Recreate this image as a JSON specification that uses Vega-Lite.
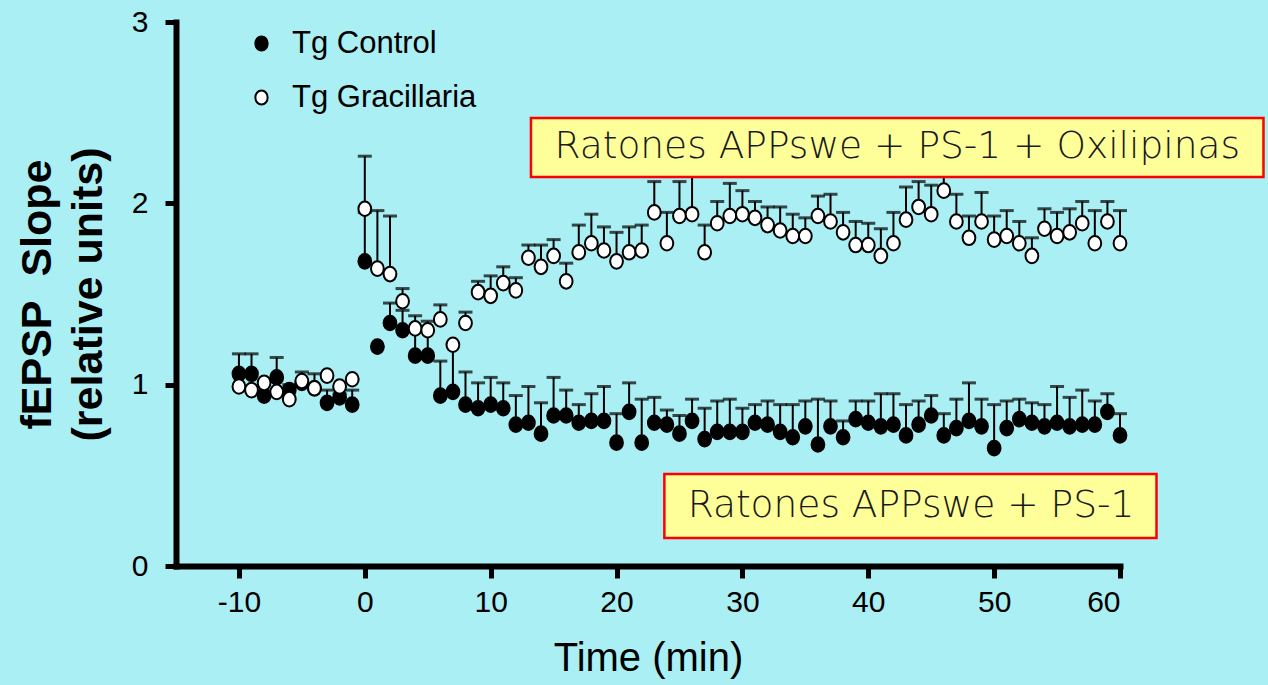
{
  "$schema": "https://vega.github.io/schema/vega-lite/v6.json",
  "width": 944,
  "height": 544,
  "autosize": {"type": "none"},
  "padding": {"left": 176, "top": 22, "right": 148, "bottom": 119},
  "background": "#aaeff4",
  "config": {
    "view": {"stroke": null},
    "axis": {
      "grid": false,
      "domainColor": "black",
      "domainWidth": 6,
      "domainCap": "square",
      "tickColor": "black",
      "tickWidth": 5,
      "tickSize": 12,
      "labelFont": "Liberation Sans",
      "labelFontSize": 30,
      "labelColor": "black",
      "titleColor": "black",
      "labelExpr": "'' + datum.value"
    }
  },
  "datasets": {
    "fepsp": [
      {"t": -10, "group": "Tg Control", "mean": 1.06, "upper": 1.17},
      {"t": -9, "group": "Tg Control", "mean": 1.06, "upper": 1.17},
      {"t": -8, "group": "Tg Control", "mean": 0.94, "upper": 0.94},
      {"t": -7, "group": "Tg Control", "mean": 1.04, "upper": 1.15},
      {"t": -6, "group": "Tg Control", "mean": 0.97, "upper": 1.0},
      {"t": -5, "group": "Tg Control", "mean": 1.01, "upper": 1.01},
      {"t": -4, "group": "Tg Control", "mean": 0.98, "upper": 0.98},
      {"t": -3, "group": "Tg Control", "mean": 0.9, "upper": 0.97},
      {"t": -2, "group": "Tg Control", "mean": 0.93, "upper": 0.95},
      {"t": -1, "group": "Tg Control", "mean": 0.89, "upper": 0.97},
      {"t": 0, "group": "Tg Control", "mean": 1.68, "upper": 1.95},
      {"t": 1, "group": "Tg Control", "mean": 1.21, "upper": 1.21},
      {"t": 2, "group": "Tg Control", "mean": 1.34, "upper": 1.45},
      {"t": 3, "group": "Tg Control", "mean": 1.3, "upper": 1.41},
      {"t": 4, "group": "Tg Control", "mean": 1.16, "upper": 1.3},
      {"t": 5, "group": "Tg Control", "mean": 1.16, "upper": 1.3},
      {"t": 6, "group": "Tg Control", "mean": 0.94, "upper": 1.13},
      {"t": 7, "group": "Tg Control", "mean": 0.96, "upper": 1.22},
      {"t": 8, "group": "Tg Control", "mean": 0.89, "upper": 1.07},
      {"t": 9, "group": "Tg Control", "mean": 0.87, "upper": 1.01},
      {"t": 10, "group": "Tg Control", "mean": 0.89, "upper": 1.04},
      {"t": 11, "group": "Tg Control", "mean": 0.87, "upper": 1.01},
      {"t": 12, "group": "Tg Control", "mean": 0.78, "upper": 0.94},
      {"t": 13, "group": "Tg Control", "mean": 0.79, "upper": 0.99},
      {"t": 14, "group": "Tg Control", "mean": 0.73, "upper": 0.9},
      {"t": 15, "group": "Tg Control", "mean": 0.83, "upper": 1.04},
      {"t": 16, "group": "Tg Control", "mean": 0.83, "upper": 0.97},
      {"t": 17, "group": "Tg Control", "mean": 0.79, "upper": 0.89},
      {"t": 18, "group": "Tg Control", "mean": 0.8, "upper": 0.95},
      {"t": 19, "group": "Tg Control", "mean": 0.8, "upper": 0.99},
      {"t": 20, "group": "Tg Control", "mean": 0.68, "upper": 0.84},
      {"t": 21, "group": "Tg Control", "mean": 0.85, "upper": 1.01},
      {"t": 22, "group": "Tg Control", "mean": 0.68, "upper": 0.92},
      {"t": 23, "group": "Tg Control", "mean": 0.79, "upper": 0.93},
      {"t": 24, "group": "Tg Control", "mean": 0.78, "upper": 0.86},
      {"t": 25, "group": "Tg Control", "mean": 0.73, "upper": 0.83},
      {"t": 26, "group": "Tg Control", "mean": 0.8, "upper": 0.92},
      {"t": 27, "group": "Tg Control", "mean": 0.7, "upper": 0.87},
      {"t": 28, "group": "Tg Control", "mean": 0.74, "upper": 0.91},
      {"t": 29, "group": "Tg Control", "mean": 0.74, "upper": 0.92},
      {"t": 30, "group": "Tg Control", "mean": 0.74, "upper": 0.87},
      {"t": 31, "group": "Tg Control", "mean": 0.79, "upper": 0.89},
      {"t": 32, "group": "Tg Control", "mean": 0.78, "upper": 0.91},
      {"t": 33, "group": "Tg Control", "mean": 0.74, "upper": 0.89},
      {"t": 34, "group": "Tg Control", "mean": 0.71, "upper": 0.89},
      {"t": 35, "group": "Tg Control", "mean": 0.77, "upper": 0.91},
      {"t": 36, "group": "Tg Control", "mean": 0.67, "upper": 0.92},
      {"t": 37, "group": "Tg Control", "mean": 0.77, "upper": 0.91},
      {"t": 38, "group": "Tg Control", "mean": 0.71, "upper": 0.8},
      {"t": 39, "group": "Tg Control", "mean": 0.81, "upper": 0.91},
      {"t": 40, "group": "Tg Control", "mean": 0.79, "upper": 0.91},
      {"t": 41, "group": "Tg Control", "mean": 0.77, "upper": 0.95},
      {"t": 42, "group": "Tg Control", "mean": 0.78, "upper": 0.95},
      {"t": 43, "group": "Tg Control", "mean": 0.72, "upper": 0.89},
      {"t": 44, "group": "Tg Control", "mean": 0.78, "upper": 0.91},
      {"t": 45, "group": "Tg Control", "mean": 0.83, "upper": 0.94},
      {"t": 46, "group": "Tg Control", "mean": 0.72, "upper": 0.84},
      {"t": 47, "group": "Tg Control", "mean": 0.76, "upper": 0.92},
      {"t": 48, "group": "Tg Control", "mean": 0.8, "upper": 1.01},
      {"t": 49, "group": "Tg Control", "mean": 0.77, "upper": 0.92},
      {"t": 50, "group": "Tg Control", "mean": 0.65, "upper": 0.89},
      {"t": 51, "group": "Tg Control", "mean": 0.76, "upper": 0.91},
      {"t": 52, "group": "Tg Control", "mean": 0.81, "upper": 0.92},
      {"t": 53, "group": "Tg Control", "mean": 0.79, "upper": 0.9},
      {"t": 54, "group": "Tg Control", "mean": 0.77, "upper": 0.89},
      {"t": 55, "group": "Tg Control", "mean": 0.79, "upper": 0.99},
      {"t": 56, "group": "Tg Control", "mean": 0.77, "upper": 0.93},
      {"t": 57, "group": "Tg Control", "mean": 0.78, "upper": 0.97},
      {"t": 58, "group": "Tg Control", "mean": 0.78, "upper": 0.91},
      {"t": 59, "group": "Tg Control", "mean": 0.85, "upper": 0.95},
      {"t": 60, "group": "Tg Control", "mean": 0.72, "upper": 0.84},
      {"t": -10, "group": "Tg Gracillaria", "mean": 0.99, "upper": 0.99},
      {"t": -9, "group": "Tg Gracillaria", "mean": 0.97, "upper": 0.97},
      {"t": -8, "group": "Tg Gracillaria", "mean": 1.01, "upper": 1.01},
      {"t": -7, "group": "Tg Gracillaria", "mean": 0.96, "upper": 0.96},
      {"t": -6, "group": "Tg Gracillaria", "mean": 0.92, "upper": 0.92},
      {"t": -5, "group": "Tg Gracillaria", "mean": 1.02, "upper": 1.07},
      {"t": -4, "group": "Tg Gracillaria", "mean": 0.98, "upper": 1.06},
      {"t": -3, "group": "Tg Gracillaria", "mean": 1.05, "upper": 1.05},
      {"t": -2, "group": "Tg Gracillaria", "mean": 0.99, "upper": 0.99},
      {"t": -1, "group": "Tg Gracillaria", "mean": 1.03, "upper": 1.03},
      {"t": 0, "group": "Tg Gracillaria", "mean": 1.97, "upper": 2.26},
      {"t": 1, "group": "Tg Gracillaria", "mean": 1.64, "upper": 1.96},
      {"t": 2, "group": "Tg Gracillaria", "mean": 1.61, "upper": 1.93},
      {"t": 3, "group": "Tg Gracillaria", "mean": 1.46, "upper": 1.53},
      {"t": 4, "group": "Tg Gracillaria", "mean": 1.31, "upper": 1.38},
      {"t": 5, "group": "Tg Gracillaria", "mean": 1.3, "upper": 1.35},
      {"t": 6, "group": "Tg Gracillaria", "mean": 1.36, "upper": 1.44},
      {"t": 7, "group": "Tg Gracillaria", "mean": 1.22, "upper": 1.22},
      {"t": 8, "group": "Tg Gracillaria", "mean": 1.34, "upper": 1.4},
      {"t": 9, "group": "Tg Gracillaria", "mean": 1.51, "upper": 1.57},
      {"t": 10, "group": "Tg Gracillaria", "mean": 1.49, "upper": 1.6},
      {"t": 11, "group": "Tg Gracillaria", "mean": 1.56, "upper": 1.65},
      {"t": 12, "group": "Tg Gracillaria", "mean": 1.52, "upper": 1.59},
      {"t": 13, "group": "Tg Gracillaria", "mean": 1.7, "upper": 1.77},
      {"t": 14, "group": "Tg Gracillaria", "mean": 1.65, "upper": 1.77},
      {"t": 15, "group": "Tg Gracillaria", "mean": 1.71, "upper": 1.8},
      {"t": 16, "group": "Tg Gracillaria", "mean": 1.57, "upper": 1.67},
      {"t": 17, "group": "Tg Gracillaria", "mean": 1.73, "upper": 1.88},
      {"t": 18, "group": "Tg Gracillaria", "mean": 1.78, "upper": 1.94},
      {"t": 19, "group": "Tg Gracillaria", "mean": 1.74, "upper": 1.87},
      {"t": 20, "group": "Tg Gracillaria", "mean": 1.68, "upper": 1.84},
      {"t": 21, "group": "Tg Gracillaria", "mean": 1.73, "upper": 1.87},
      {"t": 22, "group": "Tg Gracillaria", "mean": 1.74, "upper": 1.88},
      {"t": 23, "group": "Tg Gracillaria", "mean": 1.95, "upper": 2.12},
      {"t": 24, "group": "Tg Gracillaria", "mean": 1.78, "upper": 1.95},
      {"t": 25, "group": "Tg Gracillaria", "mean": 1.93, "upper": 2.12},
      {"t": 26, "group": "Tg Gracillaria", "mean": 1.94, "upper": 2.25},
      {"t": 27, "group": "Tg Gracillaria", "mean": 1.73, "upper": 1.88},
      {"t": 28, "group": "Tg Gracillaria", "mean": 1.89, "upper": 2.01},
      {"t": 29, "group": "Tg Gracillaria", "mean": 1.93, "upper": 2.11},
      {"t": 30, "group": "Tg Gracillaria", "mean": 1.94, "upper": 2.07},
      {"t": 31, "group": "Tg Gracillaria", "mean": 1.92, "upper": 2.01},
      {"t": 32, "group": "Tg Gracillaria", "mean": 1.88, "upper": 1.98},
      {"t": 33, "group": "Tg Gracillaria", "mean": 1.85, "upper": 1.98},
      {"t": 34, "group": "Tg Gracillaria", "mean": 1.82, "upper": 1.94},
      {"t": 35, "group": "Tg Gracillaria", "mean": 1.82, "upper": 1.92},
      {"t": 36, "group": "Tg Gracillaria", "mean": 1.93, "upper": 2.04},
      {"t": 37, "group": "Tg Gracillaria", "mean": 1.9, "upper": 2.05},
      {"t": 38, "group": "Tg Gracillaria", "mean": 1.84, "upper": 1.95},
      {"t": 39, "group": "Tg Gracillaria", "mean": 1.77, "upper": 1.9},
      {"t": 40, "group": "Tg Gracillaria", "mean": 1.77, "upper": 1.89},
      {"t": 41, "group": "Tg Gracillaria", "mean": 1.71, "upper": 1.86},
      {"t": 42, "group": "Tg Gracillaria", "mean": 1.78, "upper": 1.95},
      {"t": 43, "group": "Tg Gracillaria", "mean": 1.91, "upper": 2.09},
      {"t": 44, "group": "Tg Gracillaria", "mean": 1.98, "upper": 2.12},
      {"t": 45, "group": "Tg Gracillaria", "mean": 1.94, "upper": 2.1},
      {"t": 46, "group": "Tg Gracillaria", "mean": 2.07, "upper": 2.2},
      {"t": 47, "group": "Tg Gracillaria", "mean": 1.9, "upper": 2.05},
      {"t": 48, "group": "Tg Gracillaria", "mean": 1.81, "upper": 1.93},
      {"t": 49, "group": "Tg Gracillaria", "mean": 1.9, "upper": 2.06},
      {"t": 50, "group": "Tg Gracillaria", "mean": 1.8, "upper": 1.93},
      {"t": 51, "group": "Tg Gracillaria", "mean": 1.82, "upper": 1.96},
      {"t": 52, "group": "Tg Gracillaria", "mean": 1.78, "upper": 1.9},
      {"t": 53, "group": "Tg Gracillaria", "mean": 1.71, "upper": 1.81},
      {"t": 54, "group": "Tg Gracillaria", "mean": 1.86, "upper": 1.97},
      {"t": 55, "group": "Tg Gracillaria", "mean": 1.82, "upper": 1.95},
      {"t": 56, "group": "Tg Gracillaria", "mean": 1.84, "upper": 1.97},
      {"t": 57, "group": "Tg Gracillaria", "mean": 1.89, "upper": 2.01},
      {"t": 58, "group": "Tg Gracillaria", "mean": 1.78, "upper": 1.96},
      {"t": 59, "group": "Tg Gracillaria", "mean": 1.9, "upper": 2.01},
      {"t": 60, "group": "Tg Gracillaria", "mean": 1.78, "upper": 1.96}
    ],
    "boxes": [
      {"label": "Ratones APPswe + PS-1 + Oxilipinas", "x1": 13.2, "x2": 71.4, "y1": 2.145, "y2": 2.47, "xc": 42.3, "yc": 2.31},
      {"label": "Ratones APPswe + PS-1", "x1": 23.8, "x2": 62.9, "y1": 0.154, "y2": 0.507, "xc": 43.4, "yc": 0.33}
    ]
  },
  "layer": [
    {
      "data": {"name": "fepsp"},
      "mark": {"type": "rule", "color": "black", "strokeWidth": 2},
      "encoding": {
        "x": {"field": "t", "type": "quantitative",
          "scale": {"domain": [-15, 60], "nice": false, "zero": false},
          "axis": {"values": [-10, 0, 10, 20, 30, 40, 50, 60], "labelPadding": 9,
            "title": "Time (min)", "titleFont": "Liberation Sans", "titleFontSize": 40,
            "titleFontWeight": "normal", "titleX": 472, "titleY": 104, "titleBaseline": "alphabetic", "titleAnchor": "middle", "titleAlign": "center"}},
        "y": {"field": "mean", "type": "quantitative",
          "scale": {"domain": [0, 3], "nice": false},
          "axis": {"values": [0, 1, 2, 3], "labelPadding": 17, "tickSize": 11,
            "title": ["fEPSP\u00a0 Slope", "(relative units)"], "titleFont": "Liberation Sans",
            "titleFontSize": 43, "titleFontWeight": "bold", "titleLineHeight": 51,
            "titleAngle": 270, "titleX": -139, "titleY": 272, "titleBaseline": "middle", "titleAlign": "center"}},
        "y2": {"field": "upper"}
      }
    },
    {
      "data": {"name": "fepsp"},
      "mark": {"type": "tick", "orient": "horizontal", "size": 14, "thickness": 3, "color": "black"},
      "encoding": {
        "x": {"field": "t", "type": "quantitative"},
        "y": {"field": "upper", "type": "quantitative"}
      }
    },
    {
      "data": {"name": "fepsp"},
      "mark": {"type": "point", "filled": true, "shape": "M-0.87,0A0.87,1 0 1,0 0.87,0A0.87,1 0 1,0 -0.87,0Z", "size": 215, "stroke": "black", "strokeWidth": 2, "opacity": 1},
      "encoding": {
        "x": {"field": "t", "type": "quantitative"},
        "y": {"field": "mean", "type": "quantitative"},
        "fill": {"field": "group", "type": "nominal",
          "scale": {"domain": ["Tg Control", "Tg Gracillaria"], "range": ["black", "white"]},
          "legend": {"orient": "none", "legendX": 70, "legendY": 6, "title": null, "padding": 0,
            "labelFont": "Liberation Sans", "labelFontSize": 31, "labelColor": "black", "labelLimit": 0,
            "symbolType": "M-0.87,0A0.87,1 0 1,0 0.87,0A0.87,1 0 1,0 -0.87,0Z", "symbolSize": 200,
            "symbolStrokeColor": "black", "symbolStrokeWidth": 2, "symbolOpacity": 1,
            "rowPadding": 22, "labelOffset": 15}}
      }
    },
    {
      "data": {"name": "boxes"},
      "mark": {"type": "rect", "fill": "#ffff99", "stroke": "#ff0000", "strokeWidth": 2.5},
      "encoding": {
        "x": {"field": "x1", "type": "quantitative"},
        "x2": {"field": "x2"},
        "y": {"field": "y1", "type": "quantitative"},
        "y2": {"field": "y2"}
      }
    },
    {
      "data": {"name": "boxes"},
      "mark": {"type": "text", "font": "DejaVu Sans", "fontWeight": 200, "fontSize": 37.5, "color": "#1a1a1a", "align": "center", "baseline": "middle"},
      "encoding": {
        "x": {"field": "xc", "type": "quantitative"},
        "y": {"field": "yc", "type": "quantitative"},
        "text": {"field": "label"}
      }
    }
  ]
}
